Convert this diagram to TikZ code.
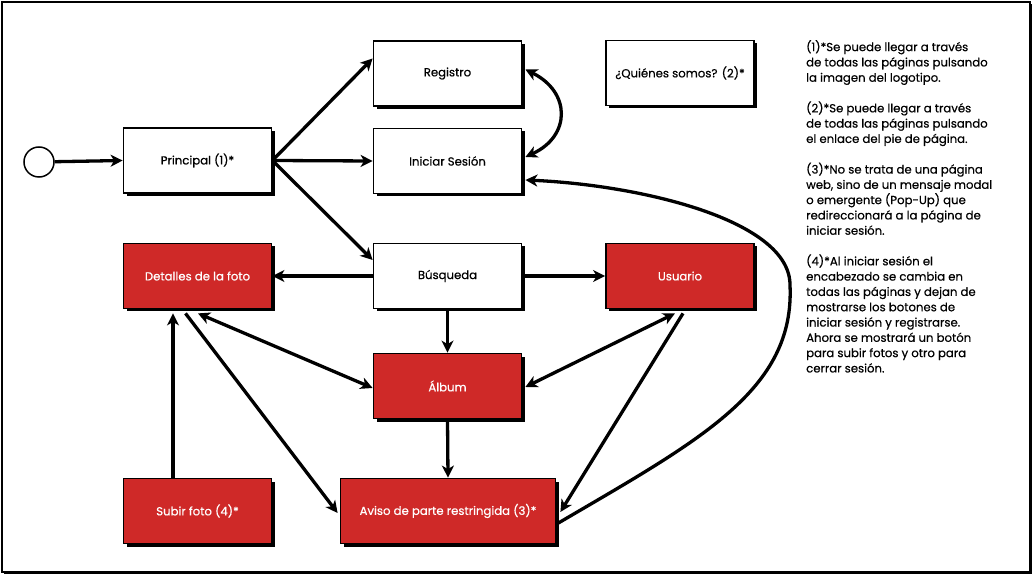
\documentclass[tikz,border=0pt]{standalone}
\usepackage{fontspec}
\setmainfont{Poppins}[FakeBold=0.5]
\usetikzlibrary{arrows.meta,shadows,calc}
\definecolor{boxred}{RGB}{207,41,40}
\begin{document}
\begin{tikzpicture}[x=1pt,y=-1pt,
  font=\fontsize{11.7}{15.3}\selectfont,
  hardshadow/.style={drop shadow={shadow xshift=3pt,shadow yshift=-3pt,opacity=1,fill=black}},
  page/.style={draw=black,line width=1.8pt,fill=white,minimum width=148pt,
    minimum height=65pt,inner sep=0pt,hardshadow},
  restricted/.style={page,fill=boxred,text=white},
  flow/.style={line width=3.3pt,-{Stealth[length=12pt,width=12pt,inset=3.5pt]}},
  twoway/.style={line width=3.3pt,{Stealth[length=12pt,width=12pt,inset=3.5pt]}-{Stealth[length=12pt,width=12pt,inset=3.5pt]}},
  note/.style={anchor=north west,align=left,inner sep=0pt}
]
\useasboundingbox (0,0) rectangle (1036,577);

% outer frame
\path[draw=black,fill=white,line width=1.8pt,
  drop shadow={shadow xshift=2pt,shadow yshift=-2pt,opacity=1,fill=black}]
  (2,2) rectangle (1030,572);

% pages
\node[circle,draw=black,line width=1.5pt,fill=white,minimum size=30pt,inner sep=0pt] (start) at (39,162) {};
\node[page] (principal) at (197.5,160.5) {Principal (1)*};
\node[page] (registro) at (447.5,73.5) {Registro};
\node[page] (iniciar) at (447.5,161) {Iniciar Sesión};
\node[page] (quienes) at (680,73) {¿Quiénes somos? (2)*};
\node[restricted] (detalles) at (197.5,276) {Detalles de la foto};
\node[page] (busqueda) at (447.5,276) {Búsqueda};
\node[restricted] (usuario) at (680,276) {Usuario};
\node[restricted] (album) at (447.5,386) {Álbum};
\node[restricted] (subir) at (197.5,511) {Subir foto (4)*};
\node[restricted,minimum width=215pt] (aviso) at (448,511) {Aviso de parte restringida (3)*};

% footnotes
\node[note] (notes) at (806,40) {%
(1)*Se puede llegar a través\\
de todas las páginas pulsando\\
la imagen del logotipo.\\[15.3pt]
(2)*Se puede llegar a través\\
de todas las páginas pulsando\\
el enlace del pie de página.\\[15.3pt]
(3)*No se trata de una página\\
web, sino de un mensaje modal\\
o emergente (Pop-Up) que\\
redireccionará a la página de\\
iniciar sesión.\\[15.3pt]
(4)*Al iniciar sesión el\\
encabezado se cambia en\\
todas las páginas y dejan de\\
mostrarse los botones de\\
iniciar sesión y registrarse.\\
Ahora se mostrará un botón\\
para subir fotos y otro para\\
cerrar sesión.};

% connectors
\draw[flow] (start) -- (principal.west);
\draw[flow] (principal.east) -- ($(registro.west)+(0,-15)$);
\draw[flow] (principal.east) -- (iniciar.west);
\draw[flow] (principal.east) -- ($(busqueda.west)+(0,-16)$);
\draw[twoway] ($(registro.east)+(3,-4)$) .. controls (571,92) and (571,136) .. ($(iniciar.east)+(3,-4)$);
\draw[flow] ($(aviso.east)+(2,12)$) .. controls (700,440) and (795,390) .. (790,285)
  .. controls (790,220) and (640,185) .. ($(iniciar.east)+(3,19)$);
\draw[flow] (busqueda.west) -- (detalles.east);
\draw[flow] (busqueda.east) -- (usuario.west);
\draw[flow] (busqueda.south) -- (album.north);
\draw[twoway] ($(detalles.south)+(0.5,4)$) -- ($(album.west)+(0,2)$);
\draw[twoway] ($(usuario.south)+(-5,4)$) -- ($(album.east)+(3,1)$);
\draw[flow] ($(usuario.south)+(3,4)$) -- ($(aviso.east)+(4,1)$);
\draw[flow] ($(detalles.south)+(-12,4)$) -- ($(aviso.west)+(-2,2)$);
\draw[flow] (album.south) -- (aviso.north);
\draw[flow] ($(subir.north)+(-24.5,0)$) -- ($(detalles.south)+(-24.5,4)$);
\end{tikzpicture}
\end{document}
